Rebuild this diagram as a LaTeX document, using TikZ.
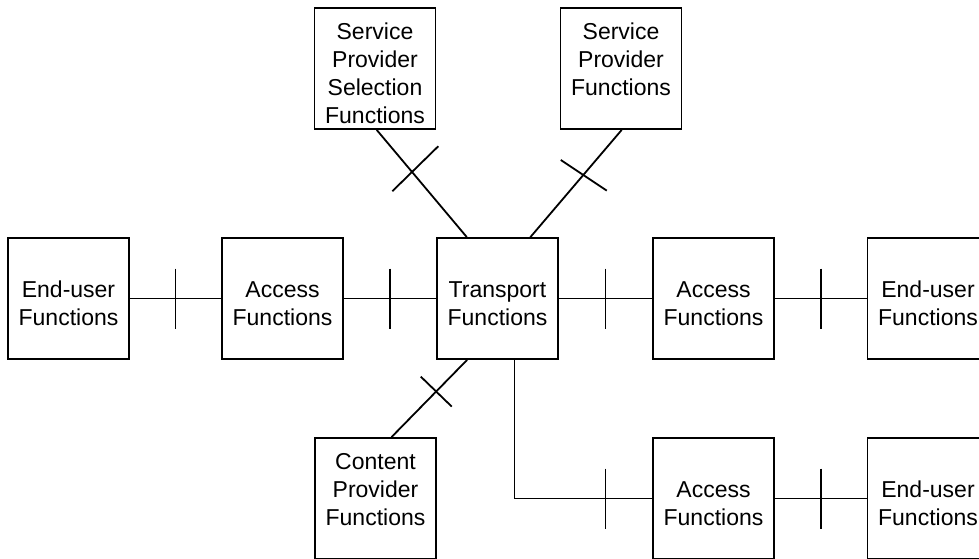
\documentclass[tikz,border=0pt]{standalone}
\usepackage{fontspec}
\setmainfont{Liberation Sans}
\begin{document}
\begin{tikzpicture}[x=1pt,y=-1pt,
  fbox/.style={draw, line width=1.8pt, minimum width=121pt, minimum height=121pt,
    inner sep=0pt, align=center, font=\fontsize{23}{28}\selectfont,
    text height=53pt, text depth=0pt},
  tallbox/.style={fbox, text height=109pt},
  link/.style={line width=1.8pt},
  tickmark/.style={line width=1.8pt}]
\useasboundingbox (0,0) rectangle (979,558);
\clip (0,0) rectangle (979,558);

% functional blocks
\node[fbox] (eu1) at (68.5,298.5)  {End-user\\Functions};
\node[fbox] (ac1) at (282.5,298.5) {Access\\Functions};
\node[fbox] (tr)  at (497.5,298.5) {Transport\\Functions};
\node[fbox] (ac2) at (713.5,298.5) {Access\\Functions};
\node[fbox] (eu2) at (928,298.5)   {End-user\\Functions};
\node[tallbox] (sps) at (375,68.5) {Service\\Provider\\Selection\\Functions};
\node[fbox] (sp)  at (621,68.5)    {Service\\Provider\\Functions};
\node[fbox] (cp)  at (375.5,498.5) {Content\\Provider\\Functions};
\node[fbox] (ac3) at (713.5,498.5) {Access\\Functions};
\node[fbox] (eu3) at (928,498.5)   {End-user\\Functions};

% horizontal reference points with ticks
\draw[link] (eu1.east) -- coordinate[midway] (t1) (ac1.west);
\draw[link] (ac1.east) -- coordinate[midway] (t2) (tr.west);
\draw[link] (tr.east)  -- coordinate[midway] (t3) (ac2.west);
\draw[link] (ac2.east) -- coordinate[midway] (t4) (eu2.west);
\draw[link] (ac3.east) -- coordinate[midway] (t6) (eu3.west);
\draw[link] ([xshift=17pt]tr.south) |- (ac3.west);
\coordinate (t5) at (t3 |- ac3.west);
\foreach \t in {t1,t2,t3,t4,t5,t6}
  \draw[tickmark] ([yshift=30pt]\t) -- ([yshift=-30pt]\t);

% diagonal reference points with crosses
\draw[link] ([xshift=1.7pt]sps.south) -- coordinate[pos=0.395] (x1) ([xshift=30.7pt]tr.north west);
\draw[tickmark] ([shift={(-20,19)}]x1) -- ([shift={(26,-26)}]x1);

\draw[link] ([xshift=0.7pt]sp.south) -- coordinate[pos=0.42] (x2) ([xshift=-28.5pt]tr.north east);
\draw[tickmark] ([shift={(-22.6,-15)}]x2) -- ([shift={(23.4,15.7)}]x2);

\draw[link] ([xshift=31pt]tr.south west) -- coordinate[pos=0.41] (x3) ([xshift=16pt]cp.north);
\draw[tickmark] ([shift={(-15.4,-15)}]x3) -- ([shift={(15.6,15)}]x3);
\end{tikzpicture}
\end{document}
